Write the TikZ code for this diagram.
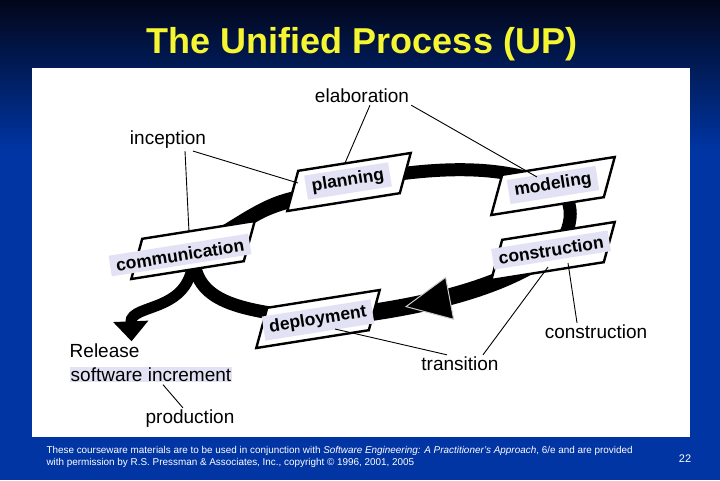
\documentclass[tikz,border=0pt]{standalone}
\usepackage{fontspec}
\setmainfont{Liberation Sans}
\usetikzlibrary{shapes.geometric,arrows.meta,decorations.markings}
\definecolor{navy}{RGB}{2,6,26}
\definecolor{slideblue}{RGB}{0,53,163}
\definecolor{lav}{RGB}{226,226,244}
\definecolor{titleyellow}{RGB}{245,245,50}
\pgfdeclarelayer{back}
\pgfdeclarelayer{flow}
\pgfsetlayers{back,flow,main}

\begin{document}
\begin{tikzpicture}[x=1pt,y=-1pt]
\tikzstyle{stage}=[trapezium,trapezium left angle=80,trapezium right angle=100,trapezium stretches=true,draw,line width=2.4pt,fill=white,minimum width=131pt,minimum height=38pt,rotate=9]
\tikzstyle{tag}=[fill=lav,inner xsep=6pt,inner ysep=4pt,rotate=9,font=\fontsize{17.5}{20}\selectfont\bfseries]
\tikzstyle{phase}=[inner sep=2pt,font=\fontsize{19}{24}\selectfont]
\tikzstyle{band}=[line width=13pt]
\tikzstyle{callout}=[line width=0.9pt]
\useasboundingbox (0,0) rectangle (720,480);

\begin{pgfonlayer}{back}
\fill[top color=navy,bottom color=slideblue] (0,0) rectangle (720,150);
\fill[slideblue] (0,150) rectangle (720,480);
\fill[white] (32,68) rectangle (690,437);
\end{pgfonlayer}

\node[text=titleyellow,font=\fontsize{36}{40}\selectfont\bfseries,anchor=base] (title) at (362,53) {The Unified Process (UP)};

% the five activities
\node[stage] (comm) at (193,250) {};
\node[stage] (plan) at (349,182) {};
\node[stage] (model) at (553,186) {};
\node[stage] (constr) at (553,251) {};
\node[stage] (deploy) at (318,319) {};
\node[tag] (comm_l) at (180,255) {communication};
\node[tag] (plan_l) at (348,181) {planning};
\node[tag] (model_l) at (553,185) {modeling};
\node[tag] (constr_l) at (551,250) {construction};
\node[tag] (deploy_l) at (318,320) {deployment};

% phases
\node[phase] (elaboration) at (362,96) {elaboration};
\node[phase] (inception) at (168,140) {inception};
\node[phase] (construction) at (596,332) {construction};
\node[phase] (transition) at (460,364) {transition};
\node[phase] (production) at (190,419) {production};
\node[phase,align=left] (release) at (151,363) {Release\\{\fboxsep=1pt\colorbox{lav}{software increment}}};

\node[text=white,anchor=west,align=left,font=\fontsize{9.9}{11.5}\selectfont] (credit) at (43,457) {These courseware materials are to be used in conjunction with \textit{Software Engineering: A Practitioner's Approach}, 6/e and are provided\\with permission by R.S. Pressman \& Associates, Inc., copyright \textcopyright{} 1996, 2001, 2005};
\node[text=white,font=\fontsize{11}{13}\selectfont] (page) at (685,459) {22};

\begin{pgfonlayer}{flow}
% tapered sweep into planning
\fill ([shift={(22,-20)}]comm.center) .. controls (245,212) and (265,197) .. ([shift={(-54,9)}]plan.center)
  -- ([shift={(-54,25)}]plan.center) .. controls (275,212) and (262,218) .. ([shift={(57,-24)}]comm.center) -- cycle;
\draw[band] (plan.center) .. controls (440,165) and (500,165) .. (model.center);
\draw[band] (model.center) .. controls (576,195) and (576,230) .. (constr.center);
\draw[line width=17pt,postaction={decorate,decoration={markings,mark=at position 0.645 with {\arrow{Triangle[length=46pt,width=44pt,line width=1pt,color=gray!40,fill=black]}}}}] (constr.center) .. controls (520,275) and (460,305) .. (deploy.center);
\draw[band] (deploy.center) .. controls (230,310) and (193,300) .. (comm.center);
\draw[line width=11pt,-{Triangle[length=20pt,width=34pt]}] (comm.center) .. controls (197,315) and (130,302) .. ([xshift=64pt]release.north west);
\end{pgfonlayer}

\draw[callout] ([xshift=8pt]elaboration.south) -- ([shift={(-4,-19)}]plan.center);
\draw[callout] (elaboration.south east) -- ([shift={(-16,-9)}]model.center);
\draw[callout] ([xshift=17pt]inception.south) -- ([shift={(-4,-18)}]comm.center);
\draw[callout] ([xshift=25pt]inception.south) -- ([shift={(-51,1)}]plan.center);
\draw[callout] ([xshift=-19pt]construction.north) -- ([shift={(15,12)}]constr.center);
\draw[callout] ([xshift=23pt]transition.north) -- ([shift={(-5,16)}]constr.center);
\draw[callout] ([xshift=-13pt]transition.north) -- ([shift={(17,10)}]deploy.center);
\draw[callout] ([xshift=-7pt]production.north) -- ([xshift=12pt]release.south);
\end{tikzpicture}
\end{document}
